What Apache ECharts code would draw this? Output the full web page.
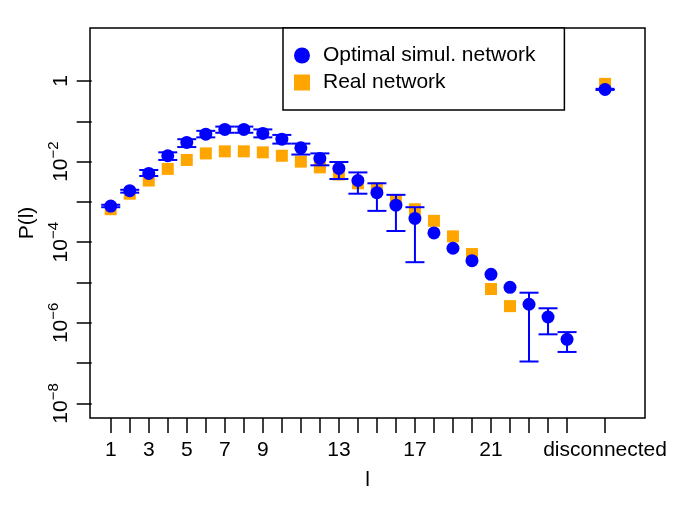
<!DOCTYPE html>
<html>
<head>
<meta charset="utf-8">
<script src="https://cdn.jsdelivr.net/npm/echarts@6/dist/echarts.min.js"></script>
<style>
  html, body { margin: 0; padding: 0; background: #fff; }
  #chart { width: 690px; height: 509px; }
</style>
</head>
<body>
<div id="chart"></div>
<script>
// x position of each point; 27 stands for "disconnected"
const simX = [1, 2, 3, 4, 5, 6, 7, 8, 9, 10, 11, 12, 13, 14, 15, 16, 17, 18, 19, 20, 21, 22, 23, 24, 25, 27];
const simP = [7.9e-4, 1.9e-3, 5.1e-3, 1.4e-2, 3.0e-2, 4.8e-2, 6.3e-2, 6.3e-2, 5.0e-2, 3.6e-2,
  2.2e-2, 1.2e-2, 6.8e-3, 3.4e-3, 1.7e-3, 8.3e-4, 3.9e-4, 1.7e-4, 7.1e-5, 3.5e-5,
  1.6e-5, 7.6e-6, 2.9e-6, 1.4e-6, 3.9e-7, 0.62];

const realX = [1, 2, 3, 4, 5, 6, 7, 8, 9, 10, 11, 12, 13, 14, 15, 16, 17, 18, 19, 20, 21, 22, 27];
const realP = [6.6e-4, 1.6e-3, 3.4e-3, 6.6e-3, 1.1e-2, 1.6e-2, 1.8e-2, 1.8e-2, 1.7e-2, 1.4e-2,
  1.0e-2, 7.2e-3, 4.8e-3, 2.9e-3, 2.2e-3, 1.1e-3, 6.6e-4, 3.4e-4, 1.4e-4, 5.1e-5,
  6.9e-6, 2.6e-6, 0.85];

// error bars of the simulated network (none drawn for 18-22)
const errX = [1, 2, 3, 4, 5, 6, 7, 8, 9, 10, 11, 12, 13, 14, 15, 16, 17, 23, 24, 25, 27];
const errLo = [7.4e-4, 1.7e-3, 4.4e-3, 1.1e-2, 2.3e-2, 4.0e-2, 5.2e-2, 5.2e-2, 4.0e-2, 2.8e-2,
  1.5e-2, 8.1e-3, 3.7e-3, 1.6e-3, 6.0e-4, 1.9e-4, 3.2e-5, 1.1e-7, 5.2e-7, 1.9e-7, 0.60];
const errHi = [8.5e-4, 2.0e-3, 6.2e-3, 1.7e-2, 3.6e-2, 5.8e-2, 7.4e-2, 7.4e-2, 6.3e-2, 4.6e-2,
  2.8e-2, 1.6e-2, 9.8e-3, 5.4e-3, 2.9e-3, 1.5e-3, 7.4e-4, 5.6e-6, 2.3e-6, 5.9e-7, 0.64];

const xTicks = [1, 2, 3, 4, 5, 6, 7, 8, 9, 10, 11, 12, 13, 14, 15, 16, 17, 18, 19, 20, 21, 22, 23, 24, 25, 27];
const xLabels = [1, 3, 5, 7, 9, 13, 17, 21, 27];
const disconnectedX = 27;
const yTicks = [1e-8, 1e-7, 1e-6, 1e-5, 1e-4, 1e-3, 1e-2, 1e-1, 1];
const yLabels = [1e-8, 1e-6, 1e-4, 1e-2, 1];

const FONT = 'Liberation Sans';
const chart = echarts.init(document.getElementById('chart'));

const option = {
  animation: false,
  textStyle: { fontFamily: FONT },
  grid: {
    left: 90, right: 45, top: 28, bottom: 91,
    show: true, borderColor: '#000', borderWidth: 1.5
  },
  legend: {
    orient: 'vertical',
    left: 283, top: 28,
    padding: [17, 29, 17, 11],
    itemWidth: 16, itemHeight: 16, itemGap: 6,
    borderColor: '#000', borderWidth: 1.5,
    backgroundColor: '#fff',
    textStyle: { fontFamily: FONT, fontSize: 21, color: '#000', padding: [0, 0, 0, 8] },
    data: [
      { name: 'Optimal simul. network', icon: 'circle' },
      { name: 'Real network', icon: 'rect' }
    ]
  },
  xAxis: {
    type: 'value',
    min: -0.09, max: 29.1,
    name: 'l',
    nameLocation: 'middle',
    nameGap: 52,
    nameTextStyle: { fontFamily: FONT, fontSize: 21, color: '#000' },
    axisLine: { show: false },
    splitLine: { show: false },
    axisTick: {
      show: true, length: 15, customValues: xTicks,
      lineStyle: { color: '#000', width: 1.5 }
    },
    axisLabel: {
      customValues: xLabels,
      margin: 22,
      fontFamily: FONT, fontSize: 21, color: '#000',
      formatter: v => (v === disconnectedX ? 'disconnected' : String(v))
    }
  },
  yAxis: {
    type: 'log',
    logBase: 10,
    min: Math.pow(10, -8.36), max: Math.pow(10, 1.315),
    name: 'P(l)',
    nameLocation: 'middle',
    nameRotate: 90,
    nameGap: 44,
    nameTextStyle: { fontFamily: FONT, fontSize: 21, color: '#000' },
    axisLine: { show: false },
    splitLine: { show: false },
    axisTick: {
      show: true, length: 15, customValues: yTicks,
      lineStyle: { color: '#000', width: 1.5 }
    },
    axisLabel: {
      customValues: yLabels,
      rotate: 90,
      margin: 18,
      color: '#000',
      formatter: v => {
        const e = Math.round(Math.log10(v));
        return e === 0 ? '{b|1}' : '{b|10}{s|\u2212' + (-e) + '}';
      },
      rich: {
        b: { fontFamily: FONT, fontSize: 21, color: '#000', lineHeight: 26, verticalAlign: 'bottom' },
        s: { fontFamily: FONT, fontSize: 15, color: '#000', verticalAlign: 'top' }
      }
    }
  },
  series: [
    {
      name: 'Real network',
      type: 'scatter',
      symbol: 'rect',
      symbolSize: 12,
      itemStyle: { color: '#FFA500', opacity: 1 },
      data: realX.map((x, i) => [x, realP[i]]),
      z: 2
    },
    {
      name: 'error bars',
      type: 'custom',
      z: 3,
      renderItem: (params, api) => {
        const x = api.value(0);
        const lo = api.coord([x, api.value(1)]);
        const hi = api.coord([x, api.value(2)]);
        const half = api.size([1, 0])[0] / 2;
        const style = { stroke: '#0000FF', lineWidth: 2 };
        return {
          type: 'group',
          children: [
            { type: 'line', shape: { x1: lo[0], y1: lo[1], x2: hi[0], y2: hi[1] }, style },
            { type: 'line', shape: { x1: lo[0] - half, y1: lo[1], x2: lo[0] + half, y2: lo[1] }, style },
            { type: 'line', shape: { x1: hi[0] - half, y1: hi[1], x2: hi[0] + half, y2: hi[1] }, style }
          ]
        };
      },
      encode: { x: 0, y: [1, 2] },
      data: errX.map((x, i) => [x, errLo[i], errHi[i]])
    },
    {
      name: 'Optimal simul. network',
      type: 'scatter',
      symbol: 'circle',
      symbolSize: 13,
      itemStyle: { color: '#0000FF', opacity: 1 },
      data: simX.map((x, i) => [x, simP[i]]),
      z: 4
    }
  ]
};

chart.setOption(option);
</script>
</body>
</html>
